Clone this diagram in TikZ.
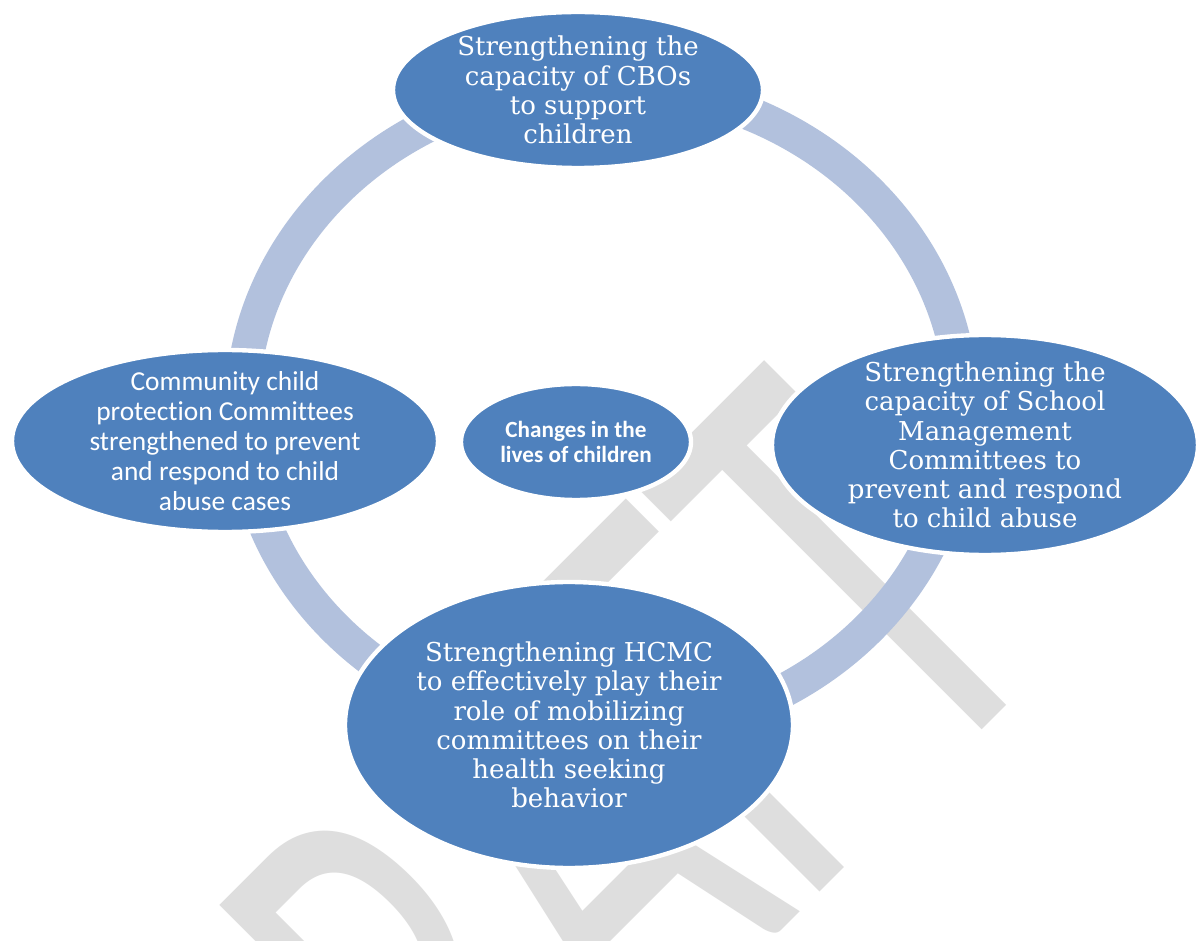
\documentclass[tikz,border=0pt]{standalone}
\usepackage{fontspec}
\newfontfamily\seriffont{DejaVu Serif}
\newfontfamily\calfont{Carlito}[Ligatures=NoCommon]
\definecolor{bubbleblue}{RGB}{79,129,189}
\definecolor{ringblue}{RGB}{178,193,221}
\definecolor{draftgray}{RGB}{222,222,222}
\begin{document}
\begin{tikzpicture}[scale=1, line join=round, line cap=round,
  bubble/.style={fill=bubbleblue, draw=white, line width=2.5pt},
  sertext/.style={text=white, align=center, inner sep=0pt, font=\seriffont\fontsize{14.8}{16.6}\selectfont},
  caltext/.style={text=white, align=center, inner sep=0pt, font=\calfont\fontsize{15.6}{17}\selectfont},
  watermark/.style={text=draftgray, inner sep=0pt, font=\calfont\fontsize{368}{368}\selectfont}]
% Khung trang
\useasboundingbox (-12.04,-10.62) rectangle (11.88,8.2);
\fill[white] (-12.04,-10.62) rectangle (11.88,8.2);
% Tâm vòng tròn và các bán kính
\coordinate (O) at (0,0);
\def\ringa{7.2}
\def\ringb{6.5}
% Tâm các hình elip
\coordinate (T) at (-0.48,6.4);
\coordinate (L) at (-7.54,-0.62);
\coordinate (R) at (7.66,-0.7);
\coordinate (B) at (-0.66,-6.3);
\coordinate (C) at (-0.52,-0.64);
% Chữ DRAFT mờ phía sau
\node[watermark, shift={(9.18,-4.82)}, rotate=45, xscale=0.6, transform shape, anchor=base east] (draft) at (0,0) {DRAFT};
% Vòng tròn nối các elip
\draw[ringblue, line width=0.68cm] (O) ellipse[x radius=\ringa, y radius=\ringb];
% Tô các hình elip
\filldraw[bubble] (T) ellipse[x radius=3.7, y radius=1.56];
\filldraw[bubble] (L) ellipse[x radius=4.26, y radius=1.82];
\filldraw[bubble] (R) ellipse[x radius=4.26, y radius=2.2];
\filldraw[bubble] (B) ellipse[x radius=4.48, y radius=2.86];
\filldraw[bubble] (C) ellipse[x radius=2.3, y radius=1.16];
% Chữ trong các elip
\node[sertext] (cbo) at (T) {Strengthening the\\capacity of CBOs\\to support\\children};
\node[caltext] (ccpc) at (L) {Community child\\protection Committees\\strengthened to prevent\\and respond to child\\abuse cases};
\node[sertext] (smc) at (R) {Strengthening the\\capacity of School\\Management\\Committees to\\prevent and respond\\to child abuse};
\node[sertext] (hcmc) at (B) {Strengthening HCMC\\to effectively play their\\role of mobilizing\\committees on their\\health seeking\\behavior};
\node[caltext, font=\calfont\bfseries\fontsize{13.2}{14.4}\selectfont] (change) at (C) {Changes in the\\lives of children};
\end{tikzpicture}
\end{document}
